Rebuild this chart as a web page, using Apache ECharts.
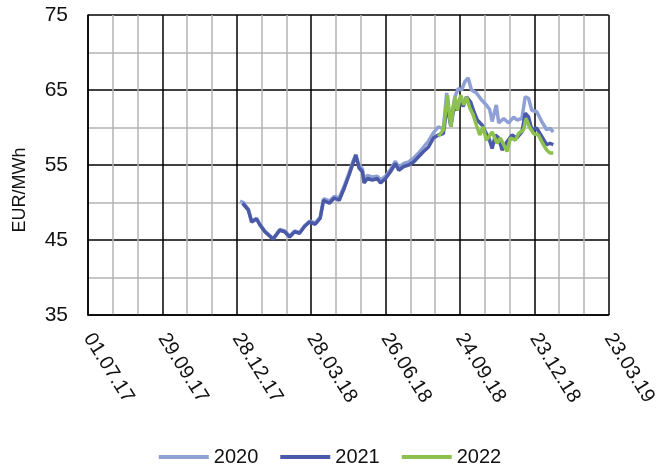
<!DOCTYPE html>
<html>
<head>
<meta charset="utf-8">
<script src="https://cdn.jsdelivr.net/npm/echarts@6/dist/echarts.min.js"></script>
<style>
  html, body { margin: 0; padding: 0; background: #fff; }
  #chart { width: 660px; height: 467px; }
</style>
</head>
<body>
<div id="chart"></div>
<script>
// x axis: days counted from 01.07.17, tick every 90 days
const startDate = '2017-07-01';
const xMax = 630;
const xStep = 90;
const yTicks = [35, 45, 55, 65, 75];

const dates2020 = ['2018-01-01','2018-01-05','2018-01-11','2018-01-15','2018-01-21','2018-01-25','2018-01-31','2018-02-10','2018-02-18','2018-02-24',
  '2018-03-02','2018-03-08','2018-03-14','2018-03-20','2018-03-26','2018-04-02','2018-04-08','2018-04-12','2018-04-19','2018-04-25',
  '2018-05-01','2018-05-07','2018-05-13','2018-05-17','2018-05-21','2018-05-25','2018-05-29','2018-05-31','2018-06-04','2018-06-10',
  '2018-06-16','2018-06-20','2018-06-26','2018-07-02','2018-07-08','2018-07-12','2018-07-18','2018-07-24','2018-07-30','2018-08-05',
  '2018-08-11','2018-08-17','2018-08-23','2018-08-29','2018-09-04','2018-09-08','2018-09-12','2018-09-18','2018-09-22','2018-09-26',
  '2018-09-30','2018-10-04','2018-10-08','2018-10-14','2018-10-20','2018-10-26','2018-10-30','2018-11-02','2018-11-07','2018-11-10',
  '2018-11-16','2018-11-22','2018-11-28','2018-12-02','2018-12-08','2018-12-12','2018-12-16','2018-12-20','2018-12-26','2019-01-01',
  '2019-01-07','2019-01-11','2019-01-15'];
const values2020 = [50.2, 50.0, 49.1, 47.5, 47.9, 47.1, 46.2, 45.2, 46.4, 46.2,
  45.5, 46.2, 46.0, 46.9, 47.5, 47.3, 48.1, 50.5, 50.2, 50.8,
  50.6, 52.2, 54.0, 55.3, 56.4, 54.9, 54.5, 53.0, 53.6, 53.4,
  53.5, 53.0, 53.5, 54.4, 55.5, 54.7, 55.2, 55.4, 55.9, 56.6,
  57.4, 58.2, 59.3, 60.1, 59.8, 64.6, 60.6, 64.1, 65.2, 65.0,
  66.1, 66.6, 65.0, 64.6, 63.7, 63.0, 62.4, 60.8, 63.0, 60.6,
  61.2, 60.6, 61.4, 61.0, 61.2, 64.1, 63.9, 62.3, 62.1, 60.8,
  59.7, 59.9, 59.4];

const dates2021 = ['2018-01-04','2018-01-11','2018-01-15','2018-01-21','2018-01-25','2018-01-31','2018-02-10','2018-02-18','2018-02-24','2018-03-02',
  '2018-03-08','2018-03-14','2018-03-20','2018-03-26','2018-04-02','2018-04-08','2018-04-12','2018-04-19','2018-04-25','2018-05-01',
  '2018-05-07','2018-05-13','2018-05-17','2018-05-21','2018-05-25','2018-05-29','2018-05-31','2018-06-04','2018-06-10','2018-06-16',
  '2018-06-20','2018-06-26','2018-07-02','2018-07-08','2018-07-12','2018-07-18','2018-07-24','2018-07-30','2018-08-05','2018-08-11',
  '2018-08-17','2018-08-23','2018-08-29','2018-09-04','2018-09-09','2018-09-13','2018-09-17','2018-09-20','2018-09-24','2018-09-28',
  '2018-10-02','2018-10-07','2018-10-11','2018-10-15','2018-10-21','2018-10-25','2018-10-29','2018-11-02','2018-11-06','2018-11-10',
  '2018-11-14','2018-11-20','2018-11-26','2018-12-02','2018-12-08','2018-12-12','2018-12-16','2018-12-20','2018-12-26','2019-01-01',
  '2019-01-07','2019-01-11','2019-01-15'];
const values2021 = [49.9, 49.0, 47.4, 47.8, 47.0, 46.1, 45.1, 46.3, 46.1, 45.4,
  46.1, 45.9, 46.8, 47.4, 47.1, 47.9, 50.3, 49.9, 50.6, 50.3,
  51.9, 53.7, 55.0, 56.3, 54.6, 54.1, 52.6, 53.2, 53.0, 53.2,
  52.6, 53.2, 54.1, 55.2, 54.3, 54.8, 55.0, 55.4, 56.1, 56.8,
  57.4, 58.6, 59.0, 59.2, 63.2, 60.1, 62.8, 62.3, 63.9, 62.8,
  64.1, 63.4, 62.1, 61.0, 60.3, 59.4, 58.6, 57.2, 59.0, 58.6,
  57.0, 58.1, 59.0, 58.6, 59.4, 61.9, 61.4, 59.7, 59.9, 58.8,
  57.7, 57.9, 57.7];

const dates2022 = ['2018-08-29','2018-09-04','2018-09-09','2018-09-13','2018-09-18','2018-09-21','2018-09-25','2018-09-29','2018-10-02','2018-10-06',
  '2018-10-10','2018-10-14','2018-10-18','2018-10-22','2018-10-26','2018-11-02','2018-11-08','2018-11-12','2018-11-16','2018-11-20',
  '2018-11-24','2018-11-30','2018-12-04','2018-12-10','2018-12-13','2018-12-17','2018-12-22','2018-12-28','2019-01-02','2019-01-07',
  '2019-01-11','2019-01-15'];
const values2022 = [58.8, 59.7, 64.3, 60.1, 64.1, 62.3, 64.3, 63.0, 64.1, 62.6,
  61.7, 60.3, 59.0, 60.1, 58.3, 59.4, 57.9, 58.6, 57.7, 56.8,
  58.6, 58.3, 59.2, 59.7, 61.2, 60.1, 59.2, 59.0, 57.9, 57.0,
  56.6, 56.6];

const seriesNames = ['2020', '2021', '2022'];
const seriesColors = ['#8fa0d4', '#4a5aa8', '#8cc04f'];

const DAY = 24 * 3600 * 1000;
const t0 = Date.parse(startDate + 'T00:00:00Z');
function toDay(s) {
  return Math.round((Date.parse(s + 'T00:00:00Z') - t0) / DAY);
}
function pad(n) { return (n < 10 ? '0' : '') + n; }
function fmtDay(v) {
  const d = new Date(t0 + v * DAY);
  return pad(d.getUTCDate()) + '.' + pad(d.getUTCMonth() + 1) + '.' + String(d.getUTCFullYear()).slice(2);
}

const allDates = [dates2020, dates2021, dates2022];
const allValues = [values2020, values2021, values2022];

const font = 'Liberation Sans, Arial, sans-serif';
const chart = echarts.init(document.getElementById('chart'));

chart.setOption({
  animation: false,
  grid: { left: 88, right: 50, top: 15, bottom: 152 },
  legend: {
    data: seriesNames,
    top: 442,
    left: 'center',
    icon: 'rect',
    itemWidth: 50,
    itemHeight: 4,
    itemGap: 22,
    textStyle: { fontFamily: font, fontSize: 20, color: '#111' }
  },
  xAxis: {
    type: 'value',
    min: 0,
    max: xMax,
    interval: xStep,
    axisLine: { show: true, onZero: false, lineStyle: { color: '#000', width: 1.5 } },
    axisTick: { show: false },
    axisLabel: {
      rotate: -58,
      margin: 20,
      fontFamily: font,
      fontSize: 20,
      color: '#111',
      formatter: fmtDay
    },
    splitLine: { show: true, lineStyle: { color: '#000', width: 1.5 } },
    minorTick: { show: false, splitNumber: 3 },
    minorSplitLine: { show: true, lineStyle: { color: '#b4b4b4', width: 1.5 } }
  },
  yAxis: {
    type: 'value',
    min: yTicks[0],
    max: yTicks[yTicks.length - 1],
    interval: yTicks[1] - yTicks[0],
    name: 'EUR/MWh',
    nameLocation: 'middle',
    nameRotate: 90,
    nameGap: 59,
    nameTextStyle: { fontFamily: font, fontSize: 18, color: '#111', padding: [0, 50, 0, 0] },
    axisLine: { show: true, lineStyle: { color: '#000', width: 1.5 } },
    axisTick: { show: false },
    axisLabel: { margin: 20, fontFamily: font, fontSize: 21, color: '#111' },
    splitLine: { show: true, lineStyle: { color: '#000', width: 1.5 } },
    minorTick: { show: false, splitNumber: 2 },
    minorSplitLine: { show: true, lineStyle: { color: '#b4b4b4', width: 1.5 } }
  },
  series: seriesNames.map((name, i) => ({
    name: name,
    type: 'line',
    symbol: 'none',
    color: seriesColors[i],
    lineStyle: { width: 3.5, color: seriesColors[i] },
    data: allDates[i].map((d, j) => [toDay(d), allValues[i][j]])
  }))
});
</script>
</body>
</html>
